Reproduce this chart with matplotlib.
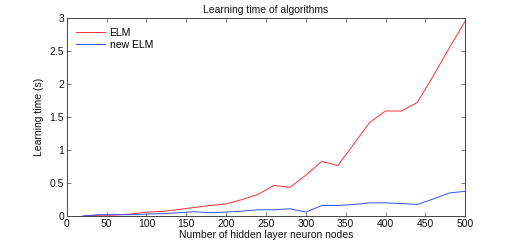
import matplotlib
matplotlib.use("Agg")
import matplotlib.pyplot as plt

plt.rcParams['font.family'] = ['Liberation Sans', 'DejaVu Sans']

nodes = [20, 40, 60, 80, 100, 120, 140, 160, 180, 200, 220, 240, 260, 280, 300,
         320, 340, 360, 380, 400, 420, 440, 460, 480, 500]
elm = [0.0, 0.01, 0.015, 0.03, 0.06, 0.07, 0.1, 0.13, 0.16, 0.185, 0.25, 0.33, 0.465, 0.435, 0.62,
       0.83, 0.765, 1.09, 1.42, 1.595, 1.595, 1.725, 2.13, 2.55, 2.96]
new_elm = [0.0, 0.02, 0.02, 0.02, 0.03, 0.035, 0.05, 0.065, 0.05, 0.06, 0.075, 0.095, 0.095, 0.11, 0.06,
           0.16, 0.16, 0.175, 0.2, 0.2, 0.19, 0.175, 0.26, 0.35, 0.375]
xticks = [0, 50, 100, 150, 200, 250, 300, 350, 400, 450, 500]
yticks = [0, 0.5, 1, 1.5, 2, 2.5, 3]
ytick_labels = ['0', '0.5', '1', '1.5', '2', '2.5', '3']

fig = plt.figure(figsize=(5.14, 2.43), dpi=100)
ax = fig.add_axes([0.130, 0.111, 0.775, 0.813])
ax.plot(nodes, elm, color='#ff3030', lw=0.7, label='ELM')
ax.plot(nodes, new_elm, color='#3050ff', lw=0.7, label='new ELM')
ax.set_xlim(0, 500)
ax.set_ylim(0, 3)
ax.set_xticks(xticks)
ax.set_yticks(yticks)
ax.set_yticklabels(ytick_labels)
ax.tick_params(direction='in', top=True, right=True, labelsize=7.5, length=3, width=0.5, pad=2,
               color='#444444', labelcolor='#111111')
for s in ax.spines.values():
    s.set_linewidth(0.7)
    s.set_color('#444444')
ax.set_title('Learning time of algorithms', fontsize=7.5, pad=4, color='#111111')
ax.set_xlabel('Number of hidden layer neuron nodes', fontsize=7.5, labelpad=1, color='#111111')
ax.set_ylabel('Learning time (s)', fontsize=7.5, labelpad=4, color='#111111')
ax.legend(loc='upper left', frameon=False, fontsize=7.5, handlelength=2.8, handletextpad=0.4,
          borderaxespad=0.3, borderpad=0.6, labelspacing=0.2)
fig.savefig('out.png', dpi=100)
